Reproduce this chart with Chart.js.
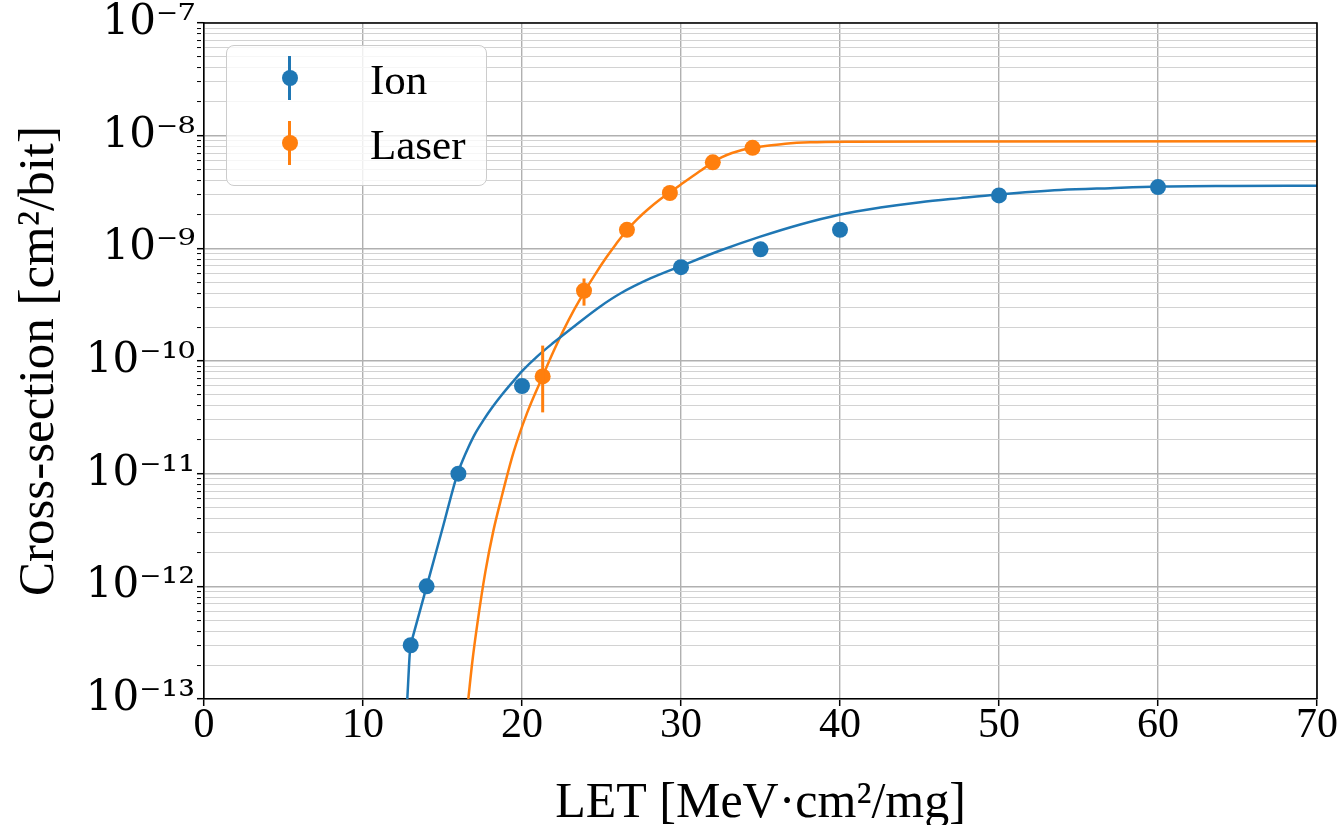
<!DOCTYPE html>
<html><head><meta charset="utf-8">
<script src="https://cdn.jsdelivr.net/npm/chart.js@4.4.1/dist/chart.umd.min.js"></script>
<style>
html,body{margin:0;padding:0;background:#fff;overflow:hidden;}
#wrap{position:relative;width:1341px;height:825px;}
#legend{position:absolute;left:226px;top:45px;width:259px;height:139px;border:1px solid #cccccc;border-radius:8px;background:rgba(255,255,255,0.8);font-family:'Liberation Serif','Times New Roman',serif;color:#000;}
.bar{position:absolute;width:3px;height:44px;}
.dot{position:absolute;width:16px;height:16px;border-radius:50%;}
.lbl{position:absolute;left:143px;font-size:43px;line-height:43px;white-space:nowrap;}
</style></head><body>
<div id="wrap"><canvas id="c" width="1341" height="825"></canvas><div id="legend"></div></div>
<script>
// ---- data ----
const ionLET   = [13, 14, 16, 20, 30, 35, 40, 50, 60];
const ionSigma = [3e-13, 1e-12, 1e-11, 6e-11, 6.8e-10, 9.8e-10, 1.46e-9, 2.95e-9, 3.5e-9];

const laserLET     = [21.3, 23.9, 26.6, 29.3, 32.0, 34.5];
const laserSigma   = [7.3e-11, 4.2e-10, 1.46e-9, 3.1e-9, 5.8e-9, 7.8e-9];
const laserErrLow  = [3.5e-11, 3.1e-10, null, null, null, null];
const laserErrHigh = [1.37e-10, 5.4e-10, null, null, null, null];

// fitted curves (sampled along the drawn lines)
const ionFitLET   = [12.786, 12.975, 13.101, 14.044, 14.987, 15.931, 16.245, 16.623, 17.063, 17.566, 18.132, 18.761, 19.39, 20.019, 20.962, 21.969, 23.352, 24.925, 26.182, 28.069, 30.082, 32.472, 34.987, 37.503, 39.956, 42.535, 45.05, 47.566, 49.956, 53.855, 57.0, 60.03, 64.55, 70.0];
const ionFitSigma = [1e-13, 2.95e-13, 3.44e-13, 1.046e-12, 3.21e-12, 9.88e-12, 1.29e-11, 1.71e-11, 2.28e-11, 2.97e-11, 3.88e-11, 5.06e-11, 6.46e-11, 8.17e-11, 1.10e-10, 1.45e-10, 2.07e-10, 3.05e-10, 3.97e-10, 5.40e-10, 7.04e-10, 9.56e-10, 1.27e-9, 1.63e-9, 1.99e-9, 2.30e-9, 2.57e-9, 2.79e-9, 3.0e-9, 3.29e-9, 3.42e-9, 3.53e-9, 3.58e-9, 3.6e-9];

const laserFitLET   = [16.623, 16.874, 17.189, 17.692, 18.195, 18.635, 19.453, 20.333, 21.296, 21.969, 22.597, 23.289, 23.95, 24.61, 25.277, 25.931, 26.604, 27.252, 27.943, 28.635, 29.283, 29.956, 30.616, 31.277, 31.95, 32.579, 33.208, 33.836, 34.465, 35.302, 36.56, 38.132, 40.648, 46.937, 70.0];
const laserFitSigma = [1e-13, 2.13e-13, 4.62e-13, 1.336e-12, 3.09e-12, 5.58e-12, 1.52e-11, 3.50e-11, 7.30e-11, 1.207e-10, 1.86e-10, 2.87e-10, 4.18e-10, 5.91e-10, 8.20e-10, 1.10e-9, 1.456e-9, 1.82e-9, 2.235e-9, 2.686e-9, 3.125e-9, 3.656e-9, 4.26e-9, 4.94e-9, 5.76e-9, 6.45e-9, 7.02e-9, 7.47e-9, 7.78e-9, 8.10e-9, 8.49e-9, 8.74e-9, 8.85e-9, 8.89e-9, 8.9e-9];

const seriesNames = ['Ion', 'Laser'];
const seriesColors = ['#1f77b4', '#ff7f0e'];

const xTickValues = [0, 10, 20, 30, 40, 50, 60, 70];
const yDecades = [-13, -12, -11, -10, -9, -8, -7];
const yTickLabels = ['10\u207B\u00B9\u00B3', '10\u207B\u00B9\u00B2', '10\u207B\u00B9\u00B9', '10\u207B\u00B9\u2070', '10\u207B\u2079', '10\u207B\u2078', '10\u207B\u2077'];

const xTitle = 'LET [MeV\u00B7cm\u00B2/mg]';
const yTitle = 'Cross-section [cm\u00B2/bit]';

// ---- helpers ----
const pts = (xs, ys) => xs.map((x, i) => ({x, y: ys[i]}));
const yTicks = [];
yDecades.forEach((e, i) => {
  yTicks.push({value: Number('1e' + e), major: true, label: yTickLabels[i]});
  if (i < yDecades.length - 1) {
    for (let k = 2; k <= 9; k++) yTicks.push({value: Number(k + 'e' + e), major: false, label: ''});
  }
});

const FONT = "'Liberation Serif', 'Times New Roman', 'DejaVu Serif', serif";
const TICKFONT = "'DejaVu Serif', serif";

const errorBars = {
  id: 'errorBars',
  afterDatasetsDraw(chart) {
    const {ctx, scales: {x, y}} = chart;
    ctx.save();
    ctx.strokeStyle = seriesColors[1];
    ctx.lineWidth = 3;
    laserLET.forEach((L, i) => {
      if (laserErrLow[i] == null) return;
      const px = x.getPixelForValue(L);
      ctx.beginPath();
      ctx.moveTo(px, y.getPixelForValue(laserErrLow[i]));
      ctx.lineTo(px, y.getPixelForValue(laserErrHigh[i]));
      ctx.stroke();
    });
    ctx.restore();
  }
};
const frame = {
  id: 'frame',
  afterDraw(chart) {
    const {ctx, chartArea: a} = chart;
    ctx.save();
    ctx.strokeStyle = '#000';
    ctx.lineWidth = 1.6;
    ctx.beginPath();
    ctx.moveTo(a.left, a.top); ctx.lineTo(a.right, a.top); ctx.lineTo(a.right, a.bottom);
    ctx.stroke();
    ctx.restore();
  }
};

const chart = new Chart(document.getElementById('c'), {
  type: 'scatter',
  data: {
    datasets: [
      {label: seriesNames[0], data: pts(ionLET, ionSigma), showLine: false, pointRadius: 8, pointHoverRadius: 8,
       backgroundColor: seriesColors[0], borderWidth: 0, order: 0, inLegend: true},
      {label: seriesNames[1], data: pts(laserLET, laserSigma), showLine: false, pointRadius: 8, pointHoverRadius: 8,
       backgroundColor: seriesColors[1], borderWidth: 0, order: 0, inLegend: true},
      {label: seriesNames[0] + ' fit', data: pts(ionFitLET, ionFitSigma), showLine: true, pointRadius: 0,
       borderColor: seriesColors[0], borderWidth: 2.5, cubicInterpolationMode: 'monotone', order: 1},
      {label: seriesNames[1] + ' fit', data: pts(laserFitLET, laserFitSigma), showLine: true, pointRadius: 0,
       borderColor: seriesColors[1], borderWidth: 2.5, cubicInterpolationMode: 'monotone', order: 1}
    ]
  },
  options: {
    responsive: false, animation: false, devicePixelRatio: 1,
    layout: {padding: {left: 0, right: 24, top: 22, bottom: 0}},
    plugins: {legend: {display: false}, tooltip: {enabled: false}},
    scales: {
      x: {
        type: 'linear', min: 0, max: 70,
        afterBuildTicks: s => { s.ticks = xTickValues.map(v => ({value: v})); },
        afterFit: s => { s.height = 126; },
        ticks: {autoSkip: false, maxRotation: 0, align: 'center', color: '#000', padding: 3,
                font: {family: FONT, size: 42, lineHeight: 0.8}},
        grid: {color: '#b0b0b0', lineWidth: 1.4, tickColor: '#000', tickLength: 7, tickWidth: 1.5},
        border: {color: '#000', width: 1.6},
        title: {display: true, text: xTitle, color: '#000', padding: 0,
                font: {family: FONT, size: 50, lineHeight: 0.84}}
      },
      y: {
        type: 'logarithmic', min: 1e-13, max: 1e-7,
        afterBuildTicks: s => { s.ticks = yTicks.map(t => ({value: t.value, major: t.major, label: t.label})); },
        afterFit: s => { s.width = 204; },
        ticks: {autoSkip: false, color: '#000', padding: 2,
                font: {family: TICKFONT, size: 42, lineHeight: 1},
                callback: (v, i) => yTicks[i] ? yTicks[i].label : ''},
        grid: {color: c => (c.tick && c.tick.major) ? '#b0b0b0' : '#d2d2d2',
               lineWidth: c => (c.tick && c.tick.major) ? 1.4 : 1.1,
               tickColor: '#000', tickLength: 7,
               tickWidth: c => (c.tick && c.tick.major) ? 1.5 : 1,
               tickBorderDash: c => (c.tick && c.tick.major) ? [] : [4, 40]},
        border: {color: '#000', width: 1.6},
        title: {display: true, text: yTitle, color: '#000', padding: {top: 9, bottom: 0},
                font: {family: FONT, size: 51, lineHeight: 1.2}}
      }
    }
  },
  plugins: [errorBars, frame]
});

// HTML legend built from the chart's datasets
const legendEl = document.getElementById('legend');
chart.data.datasets.filter(d => d.inLegend).forEach((d, i) => {
  const cy = 32 + i * 65;
  const bar = document.createElement('div'); bar.className = 'bar';
  bar.style.left = '61px'; bar.style.top = (cy - 22) + 'px'; bar.style.background = d.backgroundColor;
  const dot = document.createElement('div'); dot.className = 'dot';
  dot.style.left = '54.5px'; dot.style.top = (cy - 8) + 'px'; dot.style.background = d.backgroundColor;
  const lbl = document.createElement('div'); lbl.className = 'lbl';
  lbl.style.top = (cy - 20) + 'px'; lbl.textContent = d.label;
  legendEl.append(bar, dot, lbl);
});
</script>
</body></html>
